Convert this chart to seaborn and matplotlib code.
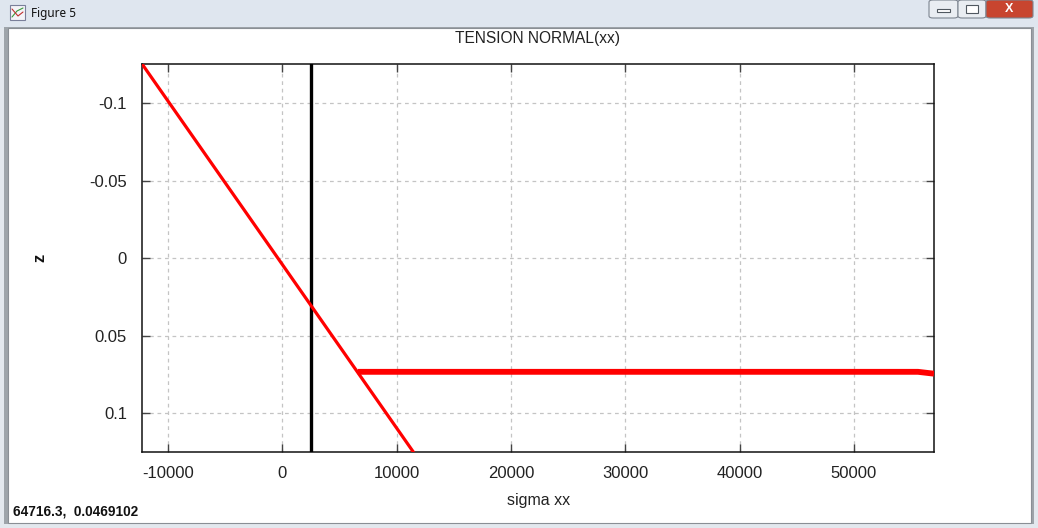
import matplotlib
matplotlib.use("Agg")
import matplotlib.pyplot as plt
from matplotlib.patches import Rectangle, FancyBboxPatch
import seaborn as sns
import pandas as pd

# ---- data ----
diag_sigma = [-12250, -390, 11460]
diag_z = [-0.125, 0.0, 0.125]
flat_sigma = [6600, 30000, 55600, 57000]
flat_z = [0.0733, 0.0733, 0.0733, 0.0745]
vline_sigma = [2520, 2520]
vline_z = [-0.125, 0.125]
x_ticks = [-10000, 0, 10000, 20000, 30000, 40000, 50000]
y_ticks = [-0.1, -0.05, 0, 0.05, 0.1]
y_tick_labels = ["-0.1", "-0.05", "0", "0.05", "0.1"]
x_limits = [-12250, 57000]
y_limits = [-0.125, 0.125]
title_text = "TENSION NORMAL(xx)"
xlabel_text = "sigma xx"
ylabel_text = "z"
window_title = "Figure 5"
status_text = "64716.3,  0.0469102"

sns.set_style("white")
plt.rcParams['font.family'] = ['Liberation Sans', 'DejaVu Sans']

W, H = 1038, 528
fig = plt.figure(figsize=(W / 100, H / 100), dpi=100)
fig.patch.set_facecolor("#e3e8ee")

def px_rect(x0, y0, x1, y1, z=-5, **kw):
    r = Rectangle((x0 / W, 1 - y1 / H), (x1 - x0) / W, (y1 - y0) / H,
                  transform=fig.transFigure, zorder=z, **kw)
    fig.patches.append(r)
    return r

# window chrome
px_rect(0, 0, W, 28, facecolor="#dfe6ef", edgecolor="none", z=-6)
px_rect(4, 27, 1034, 524, facecolor="#9ea4aa", edgecolor="none", z=-6)
px_rect(8, 28, 1031, 523, facecolor="white", edgecolor="#8a8f95", lw=0.8, z=-5)
# icon
px_rect(10, 5, 25, 20, facecolor="#f4f4f8", edgecolor="#7a7f9a", lw=0.8, z=1)
fig.lines.append(plt.Line2D([12 / W, 17 / W, 23 / W], [1 - 17 / H, 1 - 11 / H, 1 - 8 / H],
                            transform=fig.transFigure, color="#3a9a3a", lw=0.8, zorder=2))
fig.lines.append(plt.Line2D([12 / W, 18 / W, 23 / W], [1 - 9 / H, 1 - 16 / H, 1 - 12 / H],
                            transform=fig.transFigure, color="#c03030", lw=0.8, zorder=2))
fig.text(31 / W, 1 - 13 / H, window_title, fontsize=8.5, family=['Noto Sans', 'DejaVu Sans'],
         va="center", ha="left", color="#111111")
# buttons
for x0, x1, fc in [(929, 958, "#e9edf2"), (958, 986, "#e9edf2"), (986, 1033, "#c8452f")]:
    b = FancyBboxPatch((x0 / W, 1 - 18 / H), (x1 - x0) / W, 18 / H,
                       boxstyle="round,pad=0,rounding_size=0.004",
                       transform=fig.transFigure, facecolor=fc, edgecolor="#7d8590", lw=0.8,
                       zorder=1)
    fig.patches.append(b)
px_rect(937, 9, 950, 12, facecolor="white", edgecolor="#505860", lw=0.8, z=3)
px_rect(966, 5, 978, 13, facecolor="white", edgecolor="#505860", lw=0.8, z=3)
fig.text(1009.5 / W, 1 - 9 / H, "X", fontsize=9, fontweight="bold", color="white",
         ha="center", va="center")

# status text
fig.text(13 / W, 1 - 512 / H, status_text, fontsize=9.8, fontweight="bold",
         family=['Liberation Sans', 'DejaVu Sans'],
         ha="left", va="center", color="#111111")

# ---- plot axes ----
ax = fig.add_axes([142.3 / W, 1 - 452 / H, (934 - 142.3) / W, (452 - 64.3) / H])
ax.set_zorder(5)
ax.set_facecolor("white")

df_diag = pd.DataFrame({"sigma": diag_sigma, "z": diag_z})
df_flat = pd.DataFrame({"sigma": flat_sigma, "z": flat_z})
df_v = pd.DataFrame({"sigma": vline_sigma, "z": vline_z})

sns.lineplot(data=df_v, x="sigma", y="z", sort=False, estimator=None,
             color="black", lw=2.4, ax=ax, zorder=3)
sns.lineplot(data=df_diag, x="sigma", y="z", sort=False, estimator=None,
             color="#ff0000", lw=2.3, ax=ax, zorder=4)
sns.lineplot(data=df_flat, x="sigma", y="z", sort=False, estimator=None,
             color="#ff0000", lw=4.2, ax=ax, zorder=4, solid_capstyle="butt")

ax.set_xlim(*x_limits)
ax.set_ylim(y_limits[1], y_limits[0])  # reversed: -0.1 at top
ax.set_xticks(x_ticks)
ax.set_xticklabels([str(v) for v in x_ticks])
ax.set_yticks(y_ticks)
ax.set_yticklabels(y_tick_labels)

ax.grid(True, color="#c4c4c4", lw=0.9, linestyle=(0, (3, 3)))
ax.tick_params(direction="in", length=6, width=1, color="#444444",
               top=True, right=True, bottom=True, left=True,
               labelsize=12, labelcolor="#222222")
ax.tick_params(axis="x", pad=10)
ax.tick_params(axis="y", pad=11)
for s in ax.spines.values():
    s.set_visible(True)
    s.set_color("#111111")
    s.set_linewidth(1.1)

ax.set_xlabel(xlabel_text, fontsize=11.5, color="#222222")
ax.xaxis.label.set_va("center")
ax.xaxis.set_label_coords(0.5, -(500 - 452) / (452 - 64.3))
ax.set_ylabel(ylabel_text, fontsize=12, color="#111111", fontweight="bold")
ax.yaxis.label.set_va("center")
ax.yaxis.set_label_coords(-(142.3 - 40) / (934 - 142.3), 0.5)

fig.text(538 / W, 1 - 38 / H, title_text, fontsize=11.2, ha="center", va="center",
         color="#222222")

fig.savefig("out.png", dpi=100)
